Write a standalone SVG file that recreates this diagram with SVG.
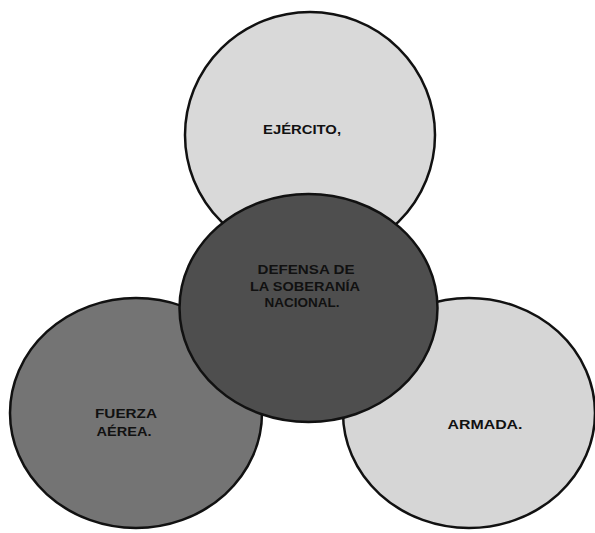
<svg xmlns="http://www.w3.org/2000/svg" width="595" height="533" viewBox="0 0 595 533">
<style>
.c{stroke:#111;stroke-width:2.5}
.t{font-family:"Liberation Sans",Arial,sans-serif;font-weight:bold;font-size:13px;fill:#111;text-anchor:middle}
</style>
<rect width="595" height="533" fill="#fff"/>
<g id="ejercito">
<ellipse class="c" cx="310" cy="135" rx="125" ry="123" fill="#d9d9d9"/>
<text class="t" x="302" y="134" textLength="78" lengthAdjust="spacingAndGlyphs">EJÉRCITO,</text>
</g>
<g id="fuerza-aerea">
<ellipse class="c" cx="136" cy="413" rx="126" ry="115" fill="#747474"/>
<text class="t" x="126" y="418" textLength="62" lengthAdjust="spacingAndGlyphs">FUERZA</text>
<text class="t" x="124" y="436" textLength="55" lengthAdjust="spacingAndGlyphs">AÉREA.</text>
</g>
<g id="armada">
<ellipse class="c" cx="469" cy="413" rx="126" ry="115" fill="#d6d6d6"/>
<text class="t" x="485" y="429" textLength="75" lengthAdjust="spacingAndGlyphs">ARMADA.</text>
</g>
<g id="defensa">
<ellipse class="c" cx="308.5" cy="308" rx="129" ry="114" fill="#4e4e4e"/>
<text class="t" x="306" y="274" textLength="97" lengthAdjust="spacingAndGlyphs">DEFENSA DE</text>
<text class="t" x="305" y="291" textLength="110" lengthAdjust="spacingAndGlyphs">LA SOBERANÍA</text>
<text class="t" x="302" y="307" textLength="75" lengthAdjust="spacingAndGlyphs">NACIONAL.</text>
</g>
<g id="connectors"></g>
</svg>
